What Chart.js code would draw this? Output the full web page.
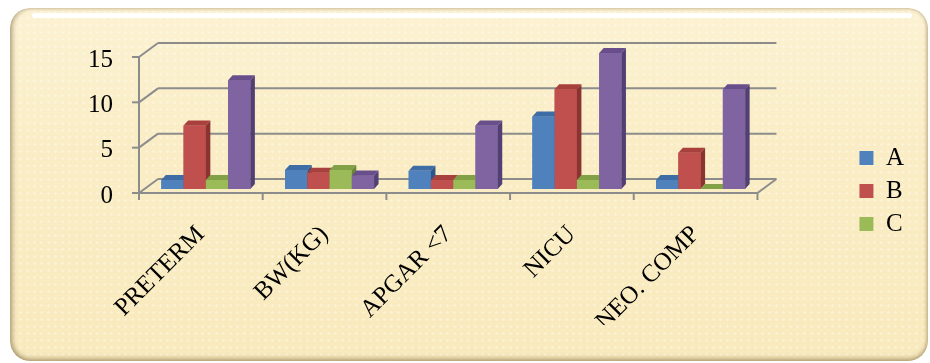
<!DOCTYPE html>
<html>
<head>
<meta charset="utf-8">
<script src="https://cdn.jsdelivr.net/npm/chart.js@4.4.1/dist/chart.umd.min.js"></script>
<style>
html, body { margin: 0; padding: 0; background: #fff; }
#wrap { position: relative; width: 930px; height: 363px; overflow: hidden; }
#panel {
    position: absolute; left: 10px; top: 8px; width: 918px; height: 353px;
    border-radius: 20px;
    background:
        radial-gradient(circle, rgba(255,255,255,0.35) 1px, transparent 1.6px) 0 0 / 7px 7px,
        linear-gradient(180deg, #fcf2d2 0%, #faedc5 40%, #f9eabd 100%);
    box-shadow: inset 3px 0 4px rgba(140,120,80,0.45), inset 0 -3px 5px rgba(140,120,80,0.45), inset -2px 0 3px rgba(160,140,100,0.3);
}
#panel::before {
    content: ''; position: absolute; left: 22px; right: 16px; top: 5px; height: 5px;
    background: rgba(255,255,255,0.95); border-radius: 3px;
}
canvas { position: absolute; left: 0; top: 0; }
</style>
</head>
<body>
<div id="wrap">
    <div id="panel"></div>
    <canvas id="chart" width="930" height="363"></canvas>
</div>
<script>
// Chart data
const categories = ['PRETERM', 'BW(KG)', 'APGAR <7', 'NICU', 'NEO. COMP'];
const seriesNames = ['A', 'B', 'C', 'D'];
const seriesA = [1, 2.1, 2, 8, 1];
const seriesB = [7, 1.8, 1, 11, 4];
const seriesC = [1, 2.1, 1, 1, 0];
const seriesD = [12, 1.5, 7, 15, 11];
const yTicks = [0, 5, 10, 15];

const frontColors = ['#4F81BD', '#C0504D', '#9BBB59', '#8064A2'];
const topColors = ['#3E6DA6', '#A8413E', '#82A146', '#684F8C'];
const sideColors = ['#2F5588', '#8A3331', '#6A8637', '#523F74'];

// 3D offsets (pixels)
const PLANE_DX = 5, PLANE_DY = -4;   // bars sit a bit behind the front axis
const BACK_DX = 19, BACK_DY = -14;   // back wall
const BAR_DX = 4.5, BAR_DY = -5;     // bar depth

function line(ctx, x1, y1, x2, y2) {
    ctx.beginPath();
    ctx.moveTo(x1, y1);
    ctx.lineTo(x2, y2);
    ctx.stroke();
}

function drawBox(ctx, p, i) {
    const l = p.x - p.width / 2, r = p.x + p.width / 2;
    // front face
    ctx.fillStyle = frontColors[i];
    ctx.fillRect(l, p.y, r - l, p.base - p.y);
    // top face
    ctx.fillStyle = topColors[i];
    ctx.beginPath();
    ctx.moveTo(l, p.y);
    ctx.lineTo(l + BAR_DX, p.y + BAR_DY);
    ctx.lineTo(r + BAR_DX, p.y + BAR_DY);
    ctx.lineTo(r, p.y);
    ctx.closePath();
    ctx.fill();
    // side face
    ctx.fillStyle = sideColors[i];
    ctx.beginPath();
    ctx.moveTo(r, p.y);
    ctx.lineTo(r + BAR_DX, p.y + BAR_DY);
    ctx.lineTo(r + BAR_DX, p.base + BAR_DY);
    ctx.lineTo(r, p.base);
    ctx.closePath();
    ctx.fill();
}

const box3d = {
    id: 'box3d',
    beforeDatasetsDraw(chart) {
        const ctx = chart.ctx;
        const xs = chart.scales.x, ys = chart.scales.y;
        const L = chart.chartArea.left, R = chart.chartArea.right;
        const base = ys.getPixelForValue(0);
        ctx.save();
        ctx.strokeStyle = '#8c8c8c';
        ctx.lineWidth = 2;
        yTicks.forEach(v => {
            const py = ys.getPixelForValue(v);
            line(ctx, L, py, L + BACK_DX, py + BACK_DY);
            line(ctx, L + BACK_DX, py + BACK_DY, R + BACK_DX, py + BACK_DY);
            line(ctx, L - 7, py, L, py);
        });
        line(ctx, L, ys.getPixelForValue(yTicks[yTicks.length - 1]), L, base);
        line(ctx, L, base, R, base);
        line(ctx, R, base, R + BACK_DX, base + BACK_DY);
        const step = xs.getPixelForTick(1) - xs.getPixelForTick(0);
        for (let i = 0; i <= categories.length; i++) {
            const bx = xs.getPixelForTick(0) - step / 2 + i * step;
            line(ctx, bx, base, bx, base + 7);
        }
        ctx.restore();
        // library bars get shifted into the bar plane
        ctx.save();
        ctx.translate(PLANE_DX, PLANE_DY);
    },
    afterDatasetsDraw(chart) {
        const ctx = chart.ctx;
        // redraw each box left to right so later fronts cover earlier sides
        const metas = chart.data.datasets.map((d, i) => chart.getDatasetMeta(i));
        for (let c = 0; c < categories.length; c++) {
            metas.forEach((meta, i) => {
                const p = meta.data[c].getProps(['x', 'y', 'base', 'width'], true);
                drawBox(ctx, p, i);
            });
        }
        ctx.restore();
    }
};

const serif = "'Liberation Serif', 'Times New Roman', serif";
const allSeries = [seriesA, seriesB, seriesC, seriesD];

new Chart(document.getElementById('chart'), {
    type: 'bar',
    data: {
        labels: categories,
        datasets: allSeries.map((data, i) => ({
            label: seriesNames[i],
            data: data,
            backgroundColor: frontColors[i],
            borderWidth: 0,
            clip: false,
            categoryPercentage: 0.72,
            barPercentage: 1.0
        }))
    },
    options: {
        responsive: false,
        animation: false,
        layout: { padding: { top: 57, left: 0, right: 16, bottom: 38 } },
        scales: {
            x: {
                grid: { display: false, drawTicks: false },
                border: { display: false },
                ticks: {
                    color: '#000',
                    font: { family: serif, size: 25 },
                    minRotation: 45,
                    maxRotation: 45,
                    autoSkip: false,
                    padding: 27
                },
                afterFit(scale) { scale.height = 363 - 38 - 193; }
            },
            y: {
                min: 0,
                max: 15,
                grid: { display: false, drawTicks: false },
                border: { display: false },
                ticks: {
                    stepSize: 5,
                    color: '#000',
                    font: { family: serif, size: 25 },
                    padding: 26,
                    labelOffset: 3
                },
                afterFit(scale) { scale.width = 139; }
            },
            yRight: {
                position: 'right',
                display: true,
                grid: { display: false, drawTicks: false },
                border: { display: false },
                ticks: { display: false },
                afterFit(scale) { scale.width = 94; }
            }
        },
        plugins: {
            legend: {
                position: 'right',
                labels: {
                    color: '#000',
                    font: { family: serif, size: 25 },
                    boxWidth: 14,
                    boxHeight: 14,
                    padding: 8,
                    filter: item => item.datasetIndex < 3
                }
            },
            tooltip: { enabled: false }
        }
    },
    plugins: [box3d]
});
</script>
</body>
</html>
